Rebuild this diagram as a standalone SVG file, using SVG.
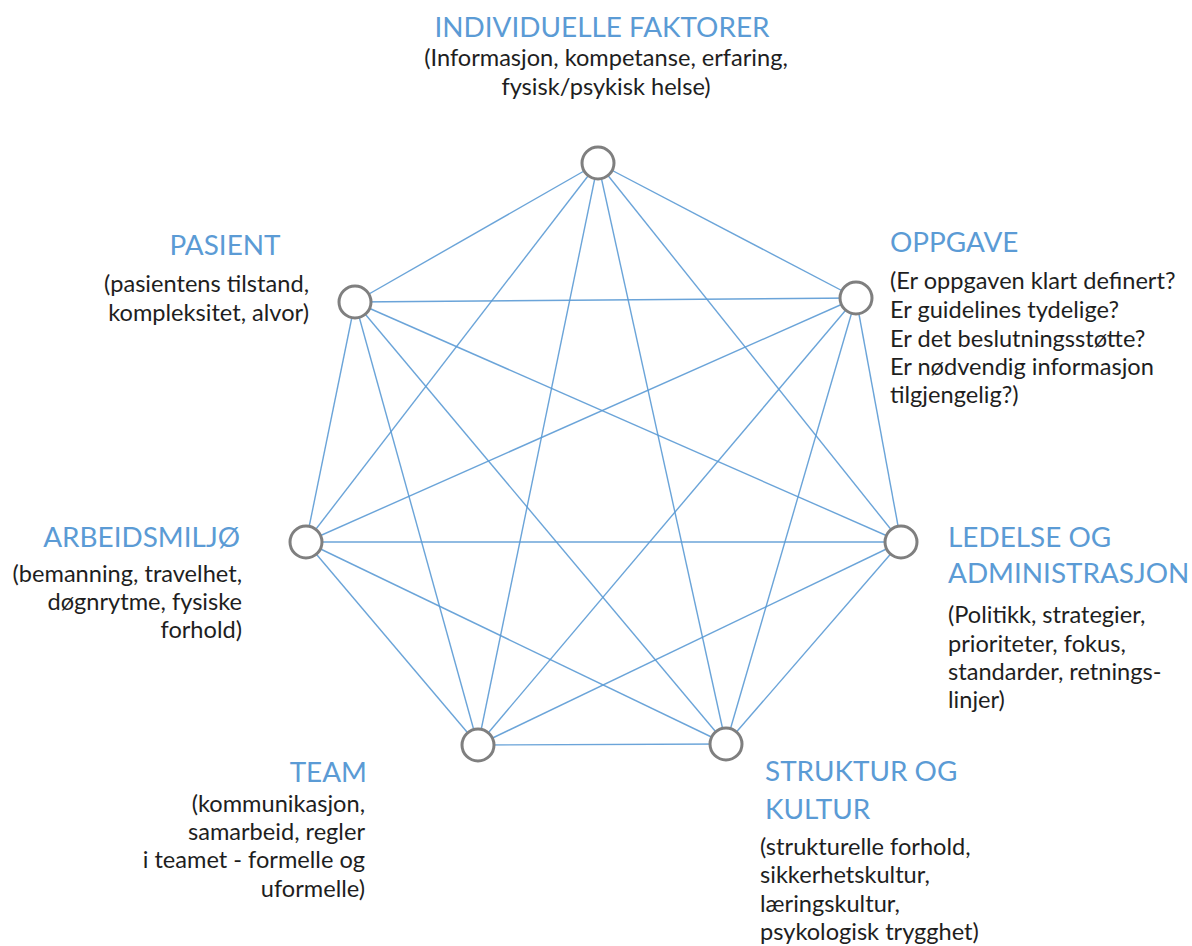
<svg xmlns="http://www.w3.org/2000/svg" width="1192" height="946" viewBox="0 0 1192 946">
<style>
.h{font-family:Lato,"Open Sans","Liberation Sans",sans-serif;font-size:27.9px;fill:#5B9BD5}
.b{font-family:Lato,"Open Sans","Liberation Sans",sans-serif;font-size:23.6px;fill:#1e1e1e}
.e line{stroke:#5B9BD5;stroke-width:1.4;opacity:0.9}
.n{fill:#fff;stroke:#7F7F7F;stroke-width:3}
</style>
<rect width="1192" height="946" fill="#fff"/>
<g id="connectors" class="e">
<line x1="598" y1="163" x2="355" y2="302"/>
<line x1="598" y1="163" x2="856" y2="298"/>
<line x1="598" y1="163" x2="306" y2="542"/>
<line x1="598" y1="163" x2="901" y2="542"/>
<line x1="598" y1="163" x2="478" y2="745"/>
<line x1="598" y1="163" x2="726" y2="744"/>
<line x1="355" y1="302" x2="856" y2="298"/>
<line x1="355" y1="302" x2="306" y2="542"/>
<line x1="355" y1="302" x2="901" y2="542"/>
<line x1="355" y1="302" x2="478" y2="745"/>
<line x1="355" y1="302" x2="726" y2="744"/>
<line x1="856" y1="298" x2="306" y2="542"/>
<line x1="856" y1="298" x2="901" y2="542"/>
<line x1="856" y1="298" x2="478" y2="745"/>
<line x1="856" y1="298" x2="726" y2="744"/>
<line x1="306" y1="542" x2="901" y2="542"/>
<line x1="306" y1="542" x2="478" y2="745"/>
<line x1="306" y1="542" x2="726" y2="744"/>
<line x1="901" y1="542" x2="478" y2="745"/>
<line x1="901" y1="542" x2="726" y2="744"/>
<line x1="478" y1="745" x2="726" y2="744"/>
</g>
<g id="individuelle">
<circle class="n" cx="598" cy="163" r="16"/>
<text class="h" x="602" y="37" text-anchor="middle">INDIVIDUELLE FAKTORER</text>
<text class="b" text-anchor="middle"><tspan x="606" y="66">(Informasjon, kompetanse, erfaring,</tspan><tspan x="606" y="95">fysisk/psykisk helse)</tspan></text>
</g>
<g id="pasient">
<circle class="n" cx="355" cy="302" r="16"/>
<text class="h" x="225" y="255" text-anchor="middle">PASIENT</text>
<text class="b" text-anchor="end"><tspan x="309" y="292">(pasientens tilstand,</tspan><tspan x="309" y="321">kompleksitet, alvor)</tspan></text>
</g>
<g id="oppgave">
<circle class="n" cx="856" cy="298" r="16"/>
<text class="h" x="890" y="252">OPPGAVE</text>
<text class="b"><tspan x="890" y="289">(Er oppgaven klart definert?</tspan><tspan x="890" y="318">Er guidelines tydelige?</tspan><tspan x="890" y="346.5">Er det beslutningsstøtte?</tspan><tspan x="890" y="375">Er nødvendig informasjon</tspan><tspan x="890" y="403">tilgjengelig?)</tspan></text>
</g>
<g id="arbeidsmiljo">
<circle class="n" cx="306" cy="542" r="16"/>
<text class="h" x="240" y="547" text-anchor="end">ARBEIDSMILJØ</text>
<text class="b" text-anchor="end"><tspan x="242" y="582">(bemanning, travelhet,</tspan><tspan x="242" y="610">døgnrytme, fysiske</tspan><tspan x="242" y="638">forhold)</tspan></text>
</g>
<g id="ledelse">
<circle class="n" cx="901" cy="542" r="16"/>
<text class="h"><tspan x="948" y="547">LEDELSE OG</tspan><tspan x="948" y="583">ADMINISTRASJON</tspan></text>
<text class="b"><tspan x="948" y="623">(Politikk, strategier,</tspan><tspan x="948" y="652">prioriteter, fokus,</tspan><tspan x="948" y="680">standarder, retnings-</tspan><tspan x="948" y="708">linjer)</tspan></text>
</g>
<g id="team">
<circle class="n" cx="478" cy="745" r="16"/>
<text class="h" x="367" y="782" text-anchor="end">TEAM</text>
<text class="b" text-anchor="end"><tspan x="365" y="812">(kommunikasjon,</tspan><tspan x="365" y="840">samarbeid, regler</tspan><tspan x="365" y="868">i teamet - formelle og</tspan><tspan x="365" y="897">uformelle)</tspan></text>
</g>
<g id="struktur">
<circle class="n" cx="726" cy="744" r="16"/>
<text class="h"><tspan x="765" y="781">STRUKTUR OG</tspan><tspan x="765" y="819">KULTUR</tspan></text>
<text class="b"><tspan x="760" y="855">(strukturelle forhold,</tspan><tspan x="760" y="883">sikkerhetskultur,</tspan><tspan x="760" y="912">læringskultur,</tspan><tspan x="760" y="940">psykologisk trygghet)</tspan></text>
</g>
</svg>
